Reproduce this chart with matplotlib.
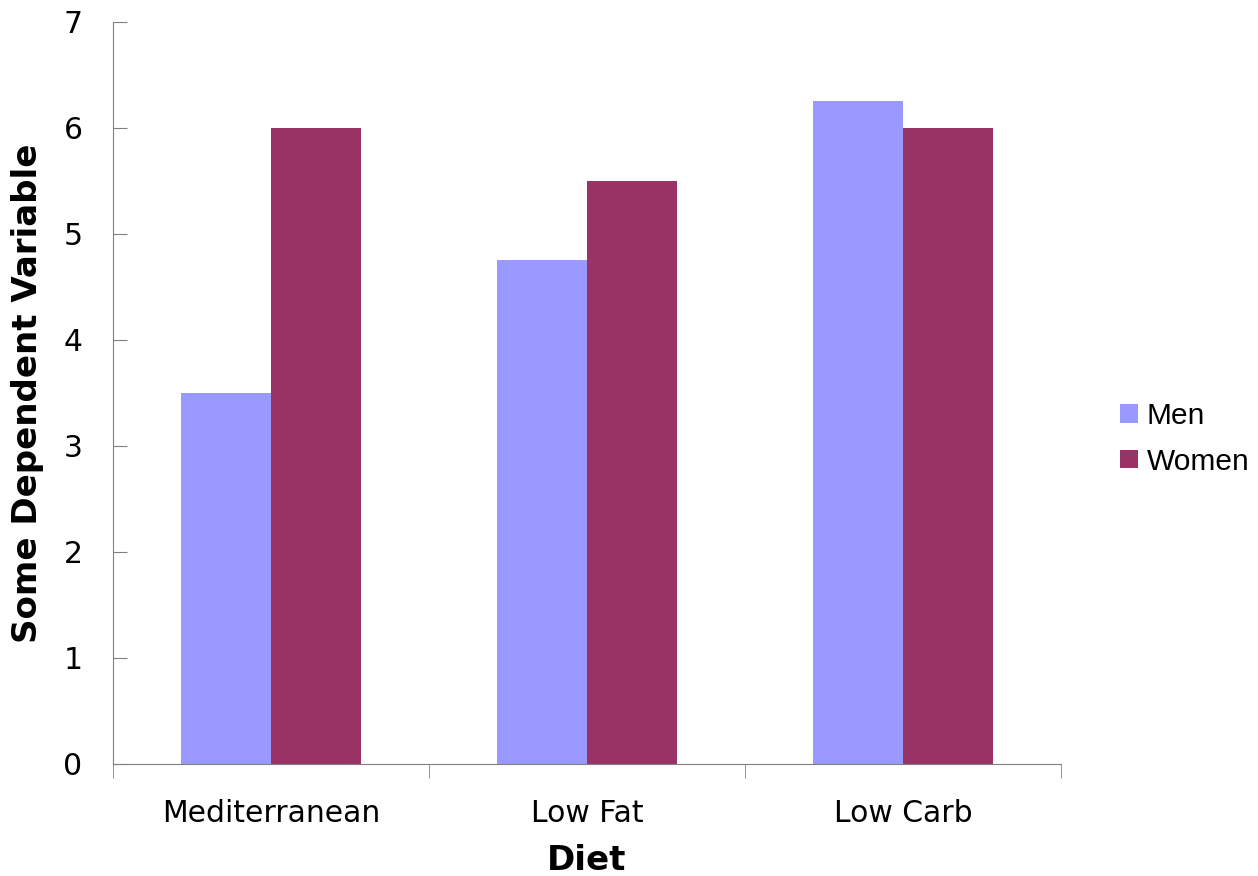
import numpy as np
import matplotlib.pyplot as plt
from matplotlib.font_manager import FontProperties

diets = ['Mediterranean', 'Low Fat', 'Low Carb']
men = [3.5, 4.75, 6.25]
women = [6.0, 5.5, 6.0]

fig = plt.figure(figsize=(12.58, 8.76), dpi=100)
ax = fig.add_axes([0.0898, 0.1279, 0.7536, 0.847])

x = np.arange(len(diets))
w = 1 / 3.5
ax.bar(x - w / 2, men, w, color='#9999FF', label='Men')
ax.bar(x + w / 2, women, w, color='#993366', label='Women')

ax.set_xlim(-0.5, 2.5)
ax.set_ylim(0, 7)
ax.set_yticks(range(8))
ax.set_xticks(x)
ax.set_xticklabels(diets)
ax.set_xticks([-0.5, 0.5, 1.5, 2.5], minor=True)
ax.tick_params(axis='x', which='major', length=0, pad=25, labelsize=21.5)
ax.tick_params(axis='x', which='minor', length=10, direction='out', color='#808080')
ax.tick_params(axis='y', length=10, direction='in', color='#808080', labelsize=21.5, pad=22)

for s in ['top', 'right']:
    ax.spines[s].set_visible(False)
for s in ['left', 'bottom']:
    ax.spines[s].set_color('#808080')

ax.set_xlabel('Diet', fontsize=24.5, fontweight='bold', labelpad=12)
ax.set_ylabel('Some Dependent Variable', fontsize=24.5, fontweight='bold', labelpad=14)

legend_font = FontProperties(family='Liberation Sans', stretch='normal', size=21.5)
fig.legend(loc='center left', bbox_to_anchor=(0.869, 0.499), frameon=False,
           prop=legend_font, handlelength=0.6,
           handleheight=0.6, handletextpad=0.3, labelspacing=0.58)

fig.savefig('out.png', dpi=100)
